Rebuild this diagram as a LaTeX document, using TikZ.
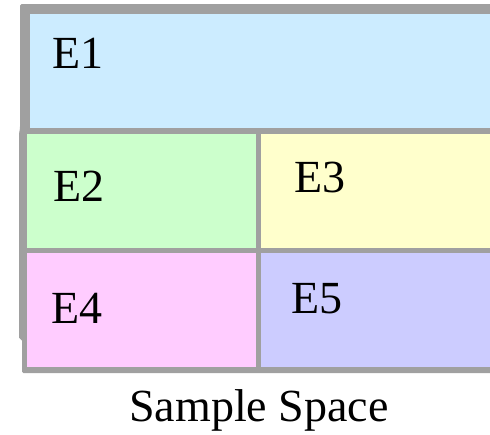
\documentclass[tikz,border=0pt]{standalone}
\usepackage{fontspec}
\setmainfont{Liberation Serif}
\definecolor{frame}{HTML}{A0A0A0}
\definecolor{cE1}{HTML}{CCECFF}
\definecolor{cE2}{HTML}{CCFFCC}
\definecolor{cE3}{HTML}{FFFFCC}
\definecolor{cE4}{HTML}{FFCCFF}
\definecolor{cE5}{HTML}{CCCCFF}
\tikzset{
  lbl/.style={anchor=base west,inner sep=0pt,font=\fontsize{46}{50}\selectfont,text=black},
  region/.style={draw=none}
}
\begin{document}
\begin{tikzpicture}[x=1pt,y=-1pt]
\useasboundingbox (0,0) rectangle (490,434);
% gray frame
\fill[frame,rounded corners=1.5pt] (20,4) -- (500,4) -- (500,373) -- (22,373) -- (22,339) -- (19,339) -- (19,134) -- (20,128) -- cycle;
% regions
\fill[cE1,region] (30,14) rectangle (500,128);
\fill[cE2,region] (27,134) rectangle (256,248);
\fill[cE3,region] (261,134) rectangle (500,248);
\fill[cE4,region] (27,253) rectangle (256,367);
\fill[cE5,region] (261,253) rectangle (500,367);
% labels
\node[lbl] (e1) at (52,68) {E1};
\node[lbl] (e2) at (53,201) {E2};
\node[lbl] (e3) at (294,192) {E3};
\node[lbl] (e4) at (51,323) {E4};
\node[lbl] (e5) at (291,313) {E5};
\node[lbl,anchor=base] (title) at (259,421) {Sample Space};
\end{tikzpicture}
\end{document}
